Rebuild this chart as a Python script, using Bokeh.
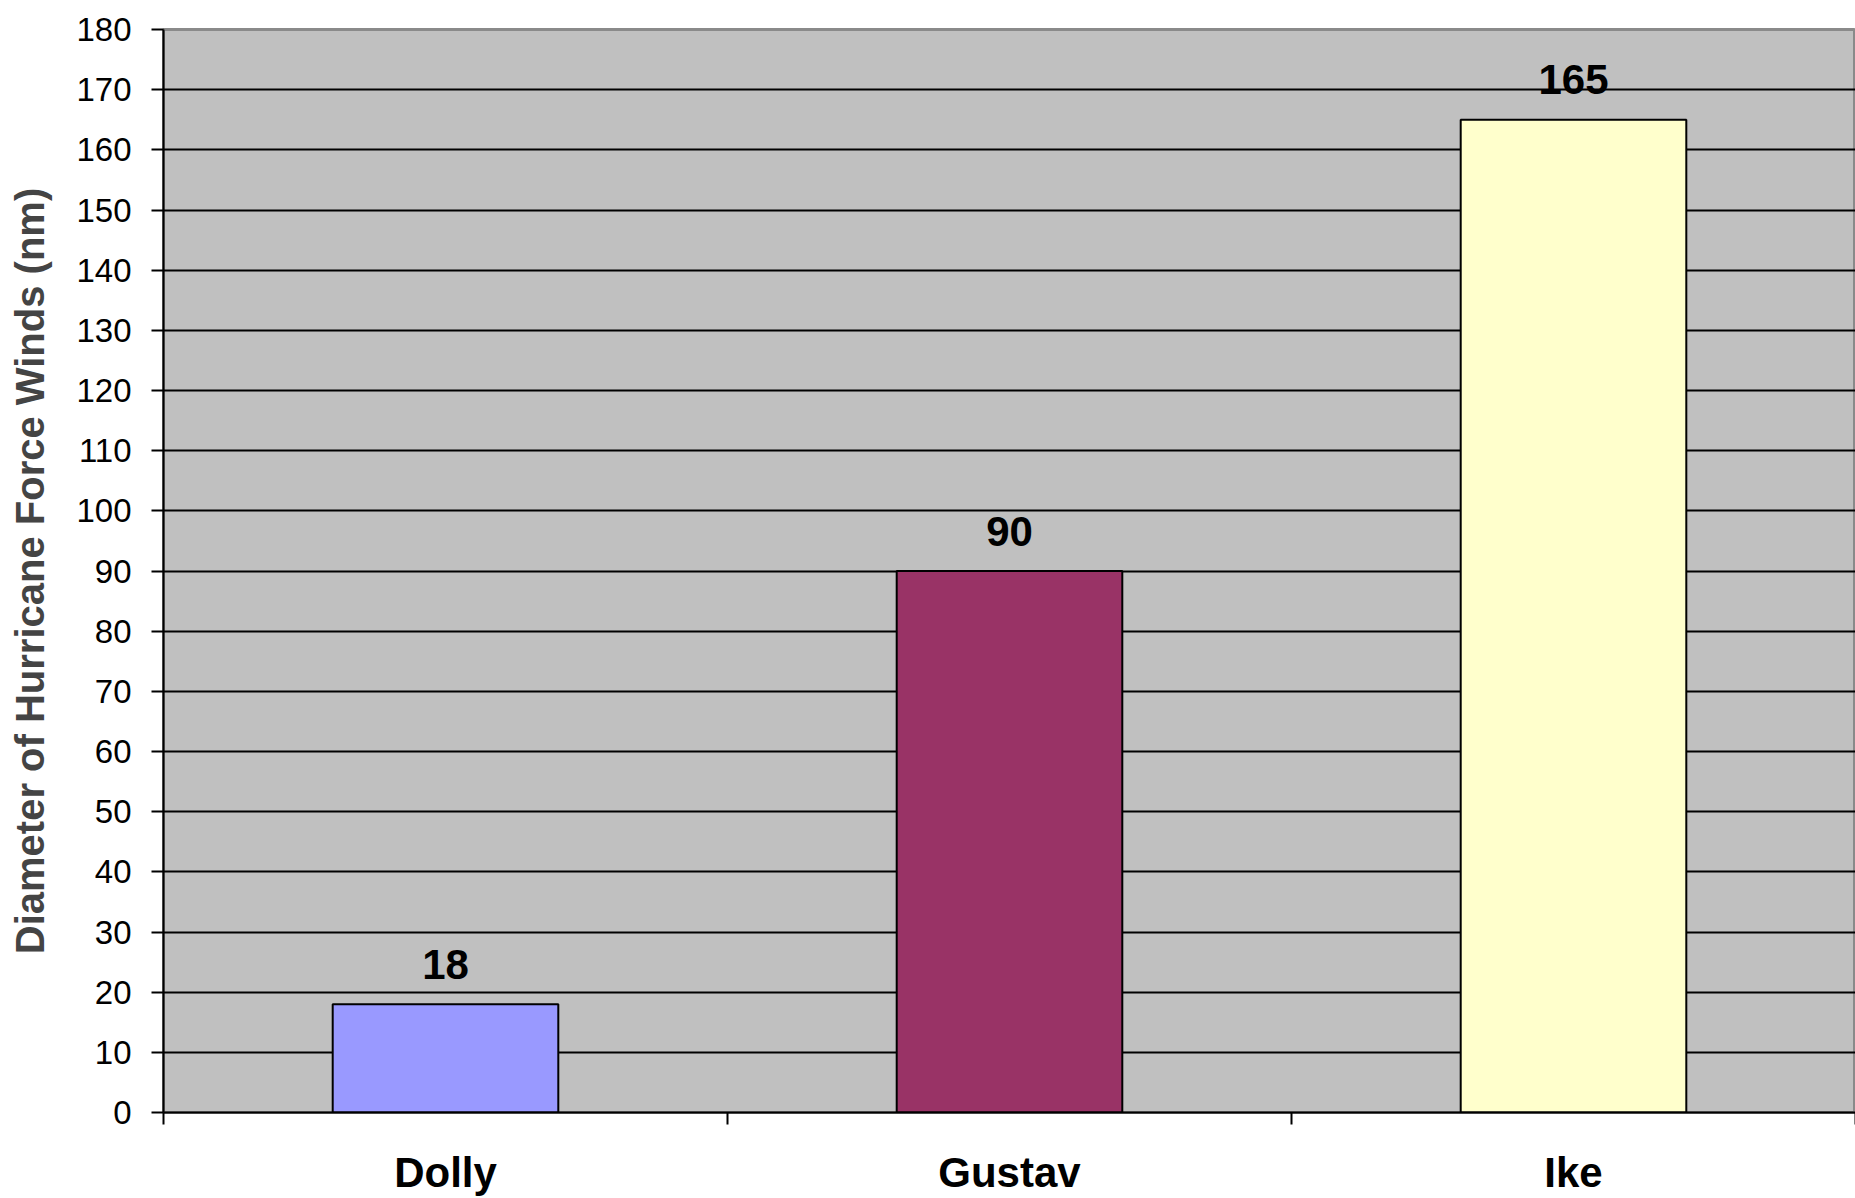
from bokeh.plotting import figure
from bokeh.models import FixedTicker, Range1d, ColumnDataSource
from bokeh.core.properties import value
from bokeh.embed import file_html
from bokeh.resources import INLINE

# Hurricane force wind diameters
storms = ["Dolly", "Gustav", "Ike"]
diameters = [18, 90, 165]
bar_colors = ["#9999FF", "#993366", "#FFFFCC"]
y_ticks = list(range(0, 190, 10))

FONT = "Liberation Sans"

xs = [i + 0.5 for i in range(len(storms))]
src = ColumnDataSource(dict(
    x=xs,
    top=diameters,
    color=bar_colors,
    label=[str(v) for v in diameters],
))

p = figure(
    width=1855, height=1198,
    x_range=Range1d(0, len(storms)), y_range=Range1d(0, 180),
    output_backend="svg", toolbar_location=None,
    min_border_left=163, min_border_right=0,
    min_border_top=29, min_border_bottom=86,
)
p.background_fill_color = "#c0c0c0"
p.border_fill_color = "white"
p.outline_line_color = "#8a8a8a"
p.outline_line_width = 3

p.vbar(x="x", top="top", bottom=0, width=0.4, fill_color="color",
       line_color="black", line_width=2, source=src)

p.text(x="x", y="top", text="label", source=src,
       text_font=value(FONT), text_font_style="bold", text_font_size="42px",
       text_align="center", text_baseline="middle", text_color="black",
       y_offset=-40)

# Y axis
p.yaxis.ticker = FixedTicker(ticks=y_ticks)
p.yaxis.axis_label = "Diameter of Hurricane Force Winds (nm)"
p.yaxis.axis_label_text_font = FONT
p.yaxis.axis_label_text_font_style = "bold"
p.yaxis.axis_label_text_font_size = "40px"
p.yaxis.axis_label_standoff = 21
p.yaxis.major_label_text_font = FONT
p.yaxis.major_label_text_font_size = "33px"
p.yaxis.major_label_text_color = "black"
p.yaxis.major_label_standoff = 20
p.yaxis.major_tick_out = 12
p.yaxis.major_tick_in = 0
p.yaxis.minor_tick_line_color = None
p.yaxis.axis_line_color = "black"
p.yaxis.axis_line_width = 2
p.yaxis.major_tick_line_width = 2

# X axis: names at category centres, ticks at category boundaries
p.xaxis.ticker = FixedTicker(ticks=xs, minor_ticks=list(range(len(storms) + 1)))
p.xaxis.major_label_overrides = {x: s for x, s in zip(xs, storms)}
p.xaxis.major_label_text_font = FONT
p.xaxis.major_label_text_font_style = "bold"
p.xaxis.major_label_text_font_size = "42px"
p.xaxis.major_label_text_color = "black"
p.xaxis.major_label_standoff = 24
p.xaxis.major_tick_line_color = None
p.xaxis.minor_tick_out = 12
p.xaxis.minor_tick_in = 0
p.xaxis.minor_tick_line_color = "black"
p.xaxis.minor_tick_line_width = 2
p.xaxis.axis_line_color = "black"
p.xaxis.axis_line_width = 2

p.xgrid.grid_line_color = None
p.ygrid.ticker = FixedTicker(ticks=y_ticks[:-1])
p.ygrid.grid_line_color = "black"
p.ygrid.grid_line_width = 2

open("out.html", "w").write(file_html(p, INLINE))
